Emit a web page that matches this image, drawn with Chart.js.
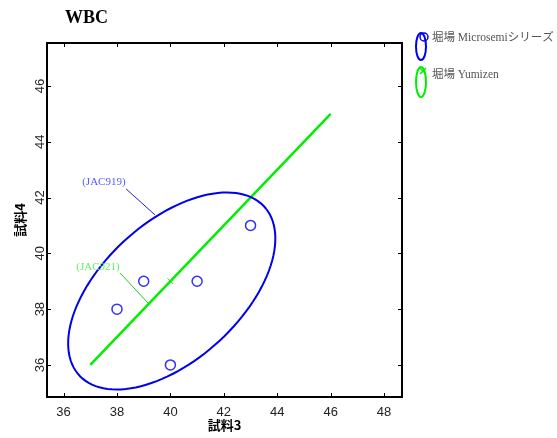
<!DOCTYPE html>
<html>
<head>
<meta charset="utf-8">
<script src="https://cdn.jsdelivr.net/npm/chart.js@4.4.1/dist/chart.umd.min.js"></script>
<style>
  html, body { margin: 0; padding: 0; background: #fff; }
  #wrap { width: 557px; height: 438px; position: relative; }
</style>
</head>
<body>
<div id="wrap"><canvas id="wbcChart" width="557" height="438"></canvas></div>
<script>
// データ
const seriesNames = ['堀場 Microsemiシリーズ', '堀場 Yumizen'];
const sample3 = [38, 39, 40, 41, 43];
const sample4 = [38, 39, 36, 39, 41];
const yumizenX = [37, 46];
const yumizenY = [36, 45];
const yumizenMark = [40, 39];
const xTickValues = [36, 38, 40, 42, 44, 46, 48];
const yTickValues = [36, 38, 40, 42, 44, 46];
const xRange = [35.38, 48.67];
const yRange = [34.85, 47.54];
// 楕円 (中心, 半径, 角度)
const ellipseCenter = [40.05, 38.65];
const ellipseAxes = [4.6, 2.52];
const ellipseAngle = 40;
// 注記
const notes = [
    { text: '(JAC919)', color: '#5a5aff', line: '#2020d0', at: [37.51, 42.56], from: [38.34, 42.31], to: [39.42, 41.38] },
    { text: '(JAC921)', color: '#66ee66', line: '#22cc22', at: [37.29, 39.51], from: [38.11, 39.30], to: [39.16, 38.22] }
];

const BLUE = '#0000ee';
const GREEN = '#00ee00';

const framePlugin = {
    id: 'frame',
    afterDatasetsDraw(chart) {
        const { ctx, chartArea: a, scales: { x, y } } = chart;
        ctx.save();
        // 楕円
        const phi = ellipseAngle * Math.PI / 180;
        ctx.beginPath();
        for (let i = 0; i <= 120; i++) {
            const t = i / 120 * Math.PI * 2;
            const u = ellipseAxes[0] * Math.cos(t), v = ellipseAxes[1] * Math.sin(t);
            const dx = ellipseCenter[0] + u * Math.cos(phi) - v * Math.sin(phi);
            const dy = ellipseCenter[1] + u * Math.sin(phi) + v * Math.cos(phi);
            const px = x.getPixelForValue(dx), py = y.getPixelForValue(dy);
            if (i === 0) ctx.moveTo(px, py); else ctx.lineTo(px, py);
        }
        ctx.strokeStyle = BLUE;
        ctx.lineWidth = 2;
        ctx.stroke();

        // 注記
        ctx.font = '11px "Liberation Serif", serif';
        ctx.textAlign = 'center';
        ctx.textBaseline = 'middle';
        notes.forEach(n => {
            ctx.fillStyle = n.color;
            ctx.fillText(n.text, x.getPixelForValue(n.at[0]), y.getPixelForValue(n.at[1]));
            ctx.beginPath();
            ctx.moveTo(x.getPixelForValue(n.from[0]), y.getPixelForValue(n.from[1]));
            ctx.lineTo(x.getPixelForValue(n.to[0]), y.getPixelForValue(n.to[1]));
            ctx.strokeStyle = n.line;
            ctx.lineWidth = 1;
            ctx.stroke();
        });

        // 枠と目盛り
        ctx.strokeStyle = '#000';
        ctx.lineWidth = 2;
        ctx.strokeRect(a.left, a.top, a.right - a.left, a.bottom - a.top);
        ctx.lineWidth = 1;
        ctx.beginPath();
        x.ticks.forEach(t => {
            const px = Math.round(x.getPixelForValue(t.value)) + 0.5;
            ctx.moveTo(px, a.bottom); ctx.lineTo(px, a.bottom - 4);
            ctx.moveTo(px, a.top); ctx.lineTo(px, a.top + 4);
        });
        y.ticks.forEach(t => {
            const py = Math.round(y.getPixelForValue(t.value)) + 0.5;
            ctx.moveTo(a.left, py); ctx.lineTo(a.left + 4, py);
            ctx.moveTo(a.right, py); ctx.lineTo(a.right - 4, py);
        });
        ctx.stroke();

        // 縦軸の目盛りラベル (回転)
        ctx.fillStyle = '#222';
        ctx.font = '13px "Liberation Sans", Arial, sans-serif';
        y.ticks.forEach(t => {
            ctx.save();
            ctx.translate(a.left - 7, y.getPixelForValue(t.value));
            ctx.rotate(-Math.PI / 2);
            ctx.textAlign = 'center';
            ctx.textBaseline = 'middle';
            ctx.fillText(String(t.value), 0, 0);
            ctx.restore();
        });

        // タイトル
        ctx.fillStyle = '#000';
        ctx.font = 'bold 18px "Liberation Serif", serif';
        ctx.textAlign = 'left';
        ctx.textBaseline = 'alphabetic';
        ctx.fillText('WBC', 65, 23);

        // 凡例
        const legendRows = [
            { color: BLUE, cy: 46.5, ry: 13.5, textY: 38 },
            { color: GREEN, cy: 82, ry: 15, textY: 75 }
        ];
        legendRows.forEach((r, i) => {
            ctx.beginPath();
            ctx.ellipse(421, r.cy, 5, r.ry, 0, 0, Math.PI * 2);
            ctx.strokeStyle = r.color;
            ctx.lineWidth = 2;
            ctx.stroke();
            ctx.lineWidth = 1.5;
            ctx.beginPath();
            if (i === 0) {
                ctx.arc(424, 37, 4, 0, Math.PI * 2);
            } else {
                ctx.moveTo(420, 68); ctx.lineTo(426, 74);
                ctx.moveTo(426, 68); ctx.lineTo(420, 74);
            }
            ctx.stroke();
            ctx.fillStyle = '#555';
            ctx.font = '11.5px "Liberation Serif", "Noto Sans CJK JP", serif';
            ctx.textBaseline = 'middle';
            ctx.fillText(seriesNames[i], 432, r.textY);
        });
        ctx.restore();
    }
};

const ctx = document.getElementById('wbcChart').getContext('2d');
new Chart(ctx, {
    type: 'scatter',
    data: {
        datasets: [{
            label: seriesNames[0],
            data: sample3.map((v, i) => ({ x: v, y: sample4[i] })),
            pointStyle: 'circle',
            pointRadius: 5,
            borderColor: '#3030ff',
            borderWidth: 1.5,
            backgroundColor: 'rgba(0,0,0,0)'
        }, {
            label: seriesNames[1],
            data: yumizenX.map((v, i) => ({ x: v, y: yumizenY[i] })),
            showLine: true,
            pointRadius: 0,
            borderColor: GREEN,
            borderWidth: 2.5
        }, {
            label: seriesNames[1],
            data: [{ x: yumizenMark[0], y: yumizenMark[1] }],
            pointStyle: 'crossRot',
            pointRadius: 4,
            borderColor: GREEN,
            borderWidth: 1
        }]
    },
    options: {
        responsive: false,
        animation: false,
        layout: { padding: { left: 0, top: 43, right: 155, bottom: 0 } },
        plugins: { legend: { display: false }, tooltip: { enabled: false }, title: { display: false } },
        scales: {
            x: {
                type: 'linear',
                min: xRange[0], max: xRange[1],
                afterBuildTicks: s => { s.ticks = xTickValues.map(v => ({ value: v })); },
                afterFit: s => { s.height = 41; },
                grid: { display: false, drawTicks: false },
                border: { display: false },
                ticks: { color: '#222', padding: 8, autoSkip: false, maxRotation: 0, minRotation: 0,
                         font: { family: '"Liberation Sans", Arial, sans-serif', size: 13 } },
                title: { display: true, text: '試料3', color: '#000', padding: { top: 0, bottom: 5 },
                         font: { family: '"Noto Sans CJK JP", sans-serif', size: 13, weight: 'bold' } }
            },
            y: {
                type: 'linear',
                min: yRange[0], max: yRange[1],
                afterBuildTicks: s => { s.ticks = yTickValues.map(v => ({ value: v })); },
                afterFit: s => { s.width = 47; },
                grid: { display: false, drawTicks: false },
                border: { display: false },
                ticks: { display: false },
                title: { display: true, text: '試料4', color: '#000', padding: { top: 12, bottom: 0 },
                         font: { family: '"Noto Sans CJK JP", sans-serif', size: 13, weight: 'bold' } }
            }
        }
    },
    plugins: [framePlugin]
});
</script>
</body>
</html>
